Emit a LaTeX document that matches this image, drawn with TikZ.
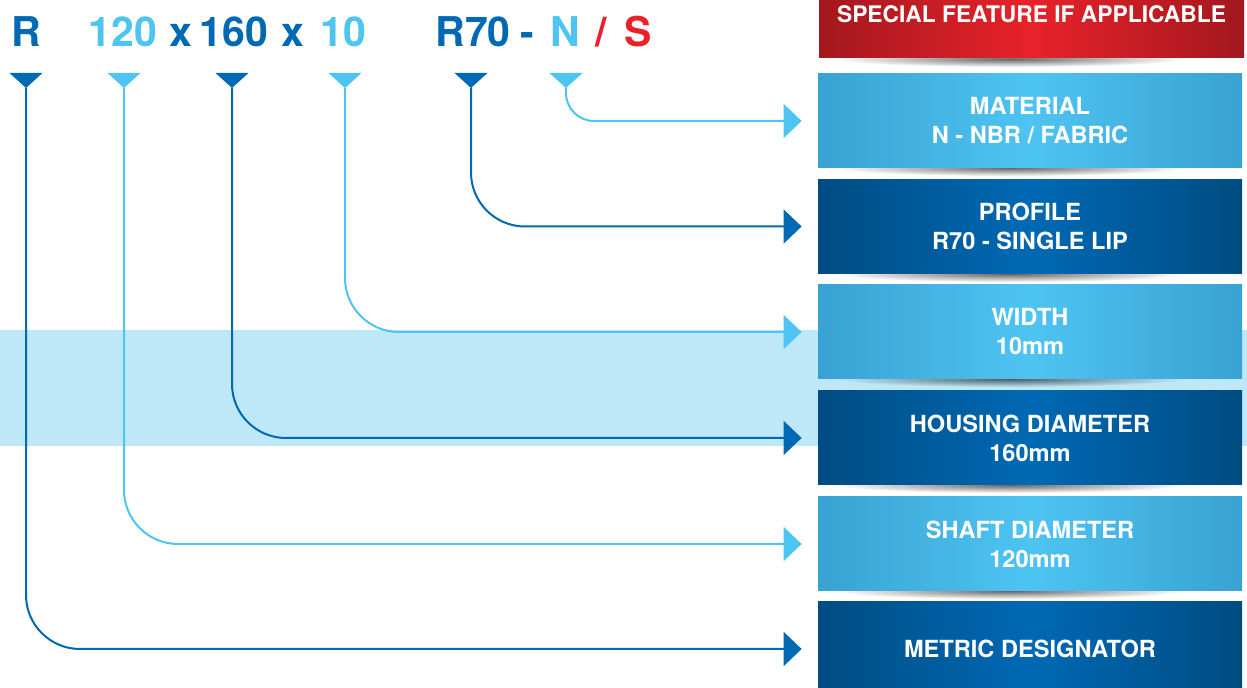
\documentclass[tikz,border=0pt]{standalone}
\usepackage{fontspec}
\setmainfont{TeX Gyre Heros}
\usetikzlibrary{arrows.meta,fadings}
\definecolor{darkblue}{HTML}{0069B4}
\definecolor{lightblue}{HTML}{4EC4F2}
\definecolor{codered}{HTML}{E8222A}
\definecolor{bandblue}{HTML}{BEE8F8}
\tikzfading[name=softspot,inner color=transparent!15,outer color=transparent!100]
\begin{document}
\begin{tikzpicture}[x=0.5pt,y=-0.5pt,
  code/.style={anchor=base,inner sep=0pt,font=\fontsize{20.5}{24}\selectfont\bfseries},
  field/.style={minimum width=212pt,minimum height=47pt,inner sep=0pt,text=white,align=center,
    font=\fontsize{11.8}{14.5}\selectfont\bfseries},
  lightfield/.style={field,left color=black!10!lightblue!80!darkblue,right color=black!10!lightblue!80!darkblue,middle color=lightblue},
  darkfield/.style={field,left color=darkblue!72!black,right color=darkblue!72!black,middle color=darkblue},
  redfield/.style={field,minimum width=212.5pt,minimum height=44pt,font=\fontsize{11.4}{14}\selectfont\bfseries,
    left color=codered!70!black,right color=codered!70!black,middle color=codered},
  shadowline/.style={black,opacity=0.7,path fading=softspot},
  link/.style={line width=1pt,-{Triangle[length=9pt,width=17pt]},rounded corners=27pt}]
  \useasboundingbox (0,0) rectangle (1247,688);
  \clip (0,0) rectangle (1247,688);
  \fill[bandblue] (0,330) rectangle (1247,446);

  \foreach \n/\x/\c/\t in {R/26/darkblue/R, 120/123/lightblue/120, x1/181/darkblue/x,
    160/234/darkblue/160, x2/293/darkblue/x, 10/343/lightblue/10, R70/473/darkblue/R70,
    dash/527/darkblue/-, N/565/lightblue/N, slash/601/codered/{/}, S/638/codered/S} {
    \node[code,text=\c] (c\n) at (\x,47) {\t};
  }
  \foreach \n/\x/\c in {R/26/darkblue, 120/124/lightblue, 160/232/darkblue,
    10/345/lightblue, R70/471/darkblue, N/566/lightblue} {
    \coordinate (t\n) at (\x,88);
    \fill[\c] (t\n) -- +(-16.5,-15) -- +(16.5,-15) -- cycle;
  }

  \foreach \y in {59,168,274,379,485,591} {
    \fill[shadowline] (1010,\y) ellipse (175 and 8);
  }
  \node[redfield] (special) at (1031.5,14) {SPECIAL FEATURE IF APPLICABLE};
  \node[lightfield] (material) at (1030,121) {MATERIAL\\N - NBR / FABRIC};
  \node[darkfield] (profile) at (1030,226.5) {PROFILE\\R70 - SINGLE LIP};
  \node[lightfield] (seatwidth) at (1030,332) {WIDTH\\10mm};
  \node[darkfield] (housing) at (1030,438) {HOUSING DIAMETER\\160mm};
  \node[lightfield] (shaft) at (1030,544) {SHAFT DIAMETER\\120mm};
  \node[darkfield] (metric) at (1030,649) {METRIC DESIGNATOR};

  \draw[link,darkblue] (tR) |- ([xshift=-8pt]metric.west);
  \draw[link,lightblue] (t120) |- ([xshift=-8pt]shaft.west);
  \draw[link,darkblue] (t160) |- ([xshift=-8pt]housing.west);
  \draw[link,lightblue] (t10) |- ([xshift=-8pt]seatwidth.west);
  \draw[link,darkblue] (tR70) |- ([xshift=-8pt]profile.west);
  \draw[link,lightblue,rounded corners=14pt] (tN) |- ([xshift=-8pt]material.west);
\end{tikzpicture}
\end{document}
